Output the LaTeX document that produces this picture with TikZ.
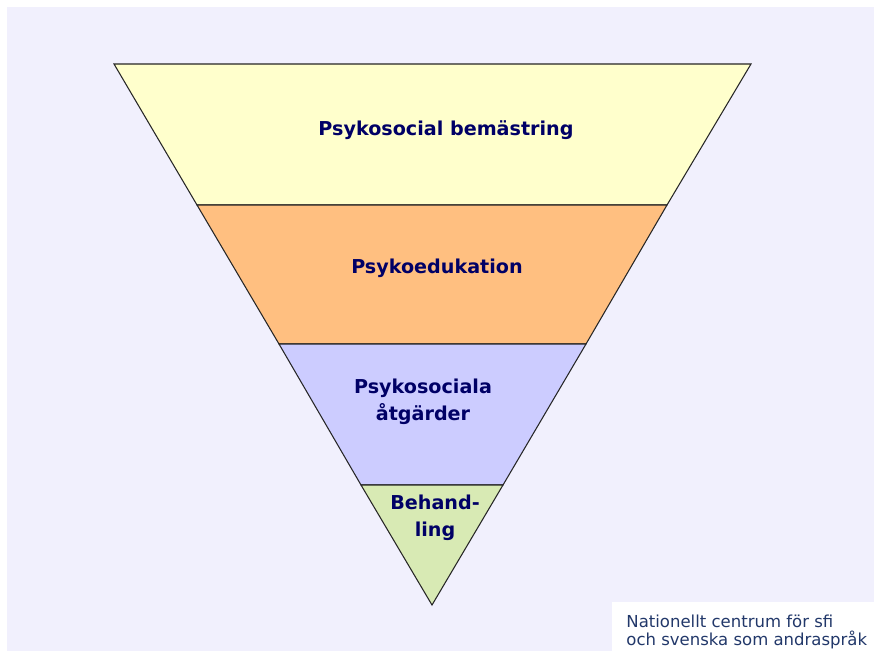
\documentclass[tikz,border=0pt]{standalone}
\usepackage{fontspec}
\setmainfont{DejaVu Sans}
\usetikzlibrary{positioning}
\definecolor{bgpage}{HTML}{F1F0FD}
\definecolor{layerA}{HTML}{FFFFCC}
\definecolor{layerB}{HTML}{FFBF80}
\definecolor{layerC}{HTML}{CCCCFF}
\definecolor{layerD}{HTML}{D8EAB4}
\definecolor{navytext}{HTML}{000066}
\definecolor{logotext}{HTML}{22386A}

\begin{document}
\begin{tikzpicture}[x=0.02cm, y=-0.02cm, line width=0.6pt,
        band/.style = {draw=black!85, line join=miter},
        lbl/.style = {text=navytext, font=\bfseries\fontsize{10.9}{15.2}\selectfont, align=center},
        logo/.style = {text=logotext, font=\fontsize{9.4}{10.2}\selectfont, align=left, anchor=north west}]
    % page
    \useasboundingbox (0,0) rectangle (874,651);
    \fill[white] (0,0) rectangle (874,651);
    \fill[bgpage] (7,7) rectangle (874,651);
    % corners of the funnel
    \coordinate (TL) at (114,64);
    \coordinate (TR) at (751,64);
    \coordinate (A1) at (197,205);
    \coordinate (B1) at (667,205);
    \coordinate (A2) at (279,344);
    \coordinate (B2) at (586,344);
    \coordinate (A3) at (361,485);
    \coordinate (B3) at (503,485);
    \coordinate (P) at (432,605);
    \filldraw[band, fill=layerA] (TL)--(TR)--(B1)--(A1)--cycle;
    \filldraw[band, fill=layerB] (A1)--(B1)--(B2)--(A2)--cycle;
    \filldraw[band, fill=layerC] (A2)--(B2)--(B3)--(A3)--cycle;
    \filldraw[band, fill=layerD] (A3)--(B3)--(P)--cycle;
    % labels
    \node[lbl] (coping) at (446,130) {Psykosocial bemästring};
    \node[lbl] (edu) at (437,268) {Psykoedukation};
    \node[lbl] (atg) at (423,402) {Psykosociala\\åtgärder};
    \node[lbl] (beh) at (435,518) {Behand-\\ling};
    % logo
    \fill[white] (612,602) rectangle (874,651);
    \node[logo] (nc) at (620,609) {Nationellt centrum för sfi\\och svenska som andraspråk};
\end{tikzpicture}
\end{document}
